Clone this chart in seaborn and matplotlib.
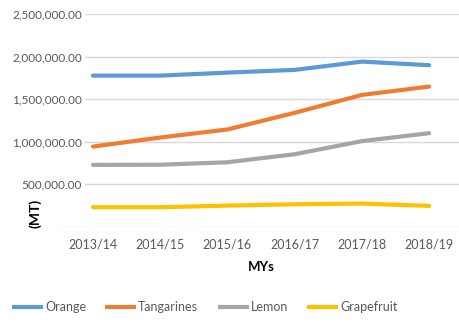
import matplotlib
matplotlib.use("Agg")
import matplotlib.pyplot as plt
import seaborn as sns
import pandas as pd

# Marketing years and production by fruit (metric tonnes)
years = ["2013/14", "2014/15", "2015/16", "2016/17", "2017/18", "2018/19"]
orange = [1777000, 1777000, 1812000, 1844000, 1941000, 1899000]
tangarines = [944000, 1050000, 1145000, 1340000, 1550000, 1648000]
lemon = [729000, 731000, 760000, 854000, 1008000, 1101000]
grapefruit = [232000, 232000, 251000, 267000, 275000, 248000]

series_names = ["Orange", "Tangarines", "Lemon", "Grapefruit"]
series_values = [orange, tangarines, lemon, grapefruit]
colors = ["#5B9BD5", "#ED7D31", "#A5A5A5", "#FFC000"]
y_ticks = [500000, 1000000, 1500000, 2000000, 2500000]

df = pd.DataFrame(
    [(y, name, v) for name, vals in zip(series_names, series_values)
     for y, v in zip(years, vals)],
    columns=["MYs", "Fruit", "MT"],
)

sns.set_style("white")
plt.rcParams["font.family"] = ["Lato", "DejaVu Sans"]

W, H = 460, 327
fig = plt.figure(figsize=(W / 100, H / 100), dpi=100)
ax_left, ax_right, ax_top, ax_bot = 59, 460, 14, 227
ax = fig.add_axes([ax_left / W, 1 - ax_bot / H, (ax_right - ax_left) / W, (ax_bot - ax_top) / H])

sns.lineplot(data=df, x="MYs", y="MT", hue="Fruit", hue_order=series_names,
             palette=colors, linewidth=3.0, sort=False, ax=ax, legend=False)
for ln in ax.get_lines():
    ln.set_solid_capstyle("round")
    ln.set_solid_joinstyle("round")

ax.set_xlim(-0.506, 5.46)
ax.set_ylim(0, 2500000)

for s in ax.spines.values():
    s.set_visible(False)

grid_start = (85 - ax_left) / (ax_right - ax_left)
for yv in y_ticks:
    ax.axhline(yv, xmin=grid_start, xmax=1, color="#D9D9D9", lw=1.0, zorder=0)
ax.axhline(0, xmin=0, xmax=1, color="#D9D9D9", lw=1.0, zorder=0)

ax.set_yticks(y_ticks)
ax.set_yticklabels([f"{v:,.2f}" for v in y_ticks])
ax.tick_params(axis="y", length=0, pad=-16.6, labelsize=8.5, labelcolor="#595959")
ax.tick_params(axis="x", length=0, pad=8, labelsize=9, labelcolor="#595959")
ax.set_xlabel("")
ax.set_ylabel("")

fig.text(261 / W, 1 - 267 / H, "MYs", ha="center", va="center",
         fontsize=9.5, fontweight="bold", color="black")
fig.text(35 / W, 1 - 213 / H, "(MT)", ha="center", va="center", rotation=90,
         fontsize=10, fontweight="bold", color="black")

handles = [plt.Line2D([], [], color=c, lw=3.0, solid_capstyle="butt") for c in colors]
fig.legend(handles, series_names, loc="center left",
           bbox_to_anchor=(12 / W, 1 - 307 / H), ncol=4, frameon=False,
           fontsize=9, labelcolor="#595959", handlelength=2.48,
           handletextpad=0.15, columnspacing=1.55, borderpad=0, borderaxespad=0)

fig.savefig("out.png", dpi=100)
